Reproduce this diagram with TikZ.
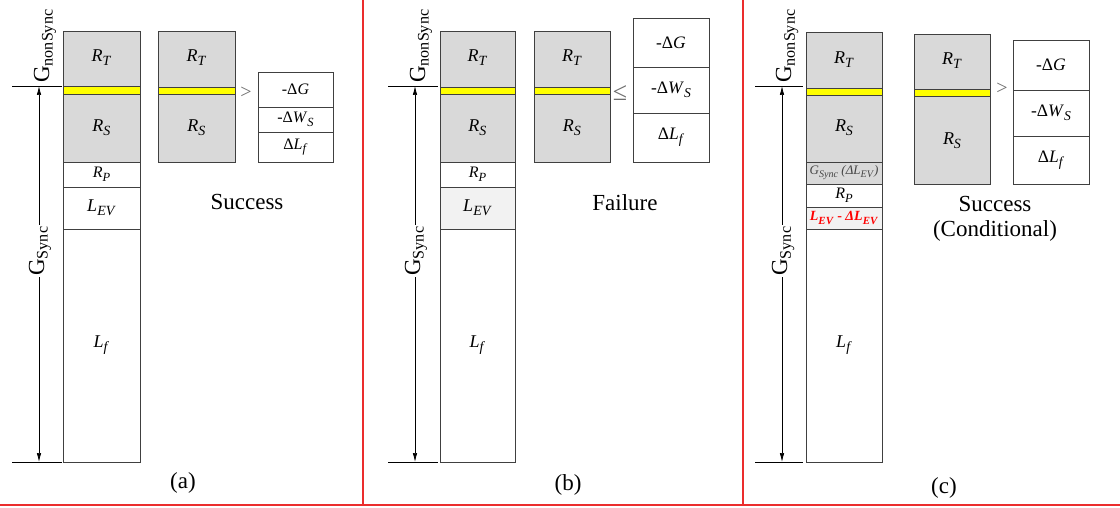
\documentclass[tikz,border=0pt]{standalone}
\usepackage{fontspec}
\usepackage{graphicx}
\setmainfont{Liberation Serif}
\usetikzlibrary{arrows.meta,calc,positioning}
\definecolor{blockgray}{RGB}{217,217,217}
\definecolor{paleblock}{RGB}{242,242,242}
\definecolor{bandyellow}{RGB}{255,255,0}
\definecolor{edgegray}{RGB}{64,64,64}
\definecolor{signgray}{RGB}{110,110,110}
\definecolor{notegray}{RGB}{70,70,70}
\definecolor{sepred}{RGB}{235,45,45}
\definecolor{lossred}{RGB}{255,0,0}

\newcommand{\vsub}[2]{\textit{#1}\raisebox{-0.22em}{\scalebox{0.78}{\textit{#2}}}}

\tikzset{
  stackbox/.style={draw=edgegray, line width=0.9pt},
  graybox/.style={stackbox, fill=blockgray},
  palebox/.style={stackbox, fill=paleblock},
  yband/.style={stackbox, fill=bandyellow},
  refline/.style={black, line width=0.7pt},
  dimarrow/.style={<->, black, line width=0.7pt},
  seprule/.style={draw=sepred, line width=1.2pt},
  blocklbl/.style={font=\fontsize{18}{20}\selectfont},
  smalllbl/.style={font=\fontsize{16}{18}\selectfont},
  deltalbl/.style={font=\fontsize{16}{18}\selectfont},
  bigdelta/.style={font=\fontsize{17.5}{20}\selectfont},
  verdict/.style={font=\fontsize{23}{26}\selectfont, align=center},
  relsign/.style={signgray, font=\fontsize{20}{22}\selectfont},
  glabel/.style={rotate=90, font=\fontsize{23}{24}\selectfont, inner sep=1pt},
}

\begin{document}
\begin{tikzpicture}[x=1pt, y=-1pt, >={Latex[length=9pt,width=4.5pt]}]

\useasboundingbox (0,0) rectangle (1120,508);

% =====================================================================
% Three panels, coordinates in pixels of the 1120x508 frame (y down).
% Each panel: stacked budget column, G lines, and a comparison.
% =====================================================================

% panel separators
\draw[seprule] (363,0) -- (363,505);
\draw[seprule] (743,0) -- (743,505);
\draw[seprule] (0,505) -- (1120,505);

% ===== Panel (a): success =====
\filldraw[graybox] (63,31) rectangle (140,162);
\filldraw[yband] (63,86) rectangle (140,94);
\draw[stackbox] (63,162) rectangle (140,187);
\draw[stackbox] (63,187) rectangle (140,229);
\draw[stackbox] (63,229) rectangle (140,462);
\node[blocklbl] (aRT) at (101.5,58) {\vsub{R}{T}};
\node[blocklbl] (aRS) at (101.5,128) {\vsub{R}{S}};
\node[smalllbl] (aRP) at (101.5,174.5) {\vsub{R}{P}};
\node[blocklbl] (aLEV) at (101.5,208) {\vsub{L}{EV}};
\node[blocklbl] (aLf) at (101.5,345.5) {\vsub{L}{f}};

% G levels
\coordinate (aTop) at (39,86);
\coordinate (aBot) at (39,462);
\draw[refline] (12,86) -- (62,86);
\draw[refline] (12,462) -- (62,462);
\draw[dimarrow] (aTop) -- (aBot);
\node[glabel, fill=white] (aGs) at (40,251) {G\textsubscript{Sync}};
\node[glabel] (aGns) at (45,46) {G\textsubscript{nonSync}};

% comparison
\filldraw[graybox] (158,31) rectangle (235,162);
\filldraw[yband] (158,87) rectangle (235,94);
\node[blocklbl] (aRT2) at (196.5,58) {\vsub{R}{T}};
\node[blocklbl] (aRS2) at (196.5,128) {\vsub{R}{S}};
\node[relsign] (aGt) at (246,93) {>};
\draw[stackbox] (258,72) rectangle (333,162);
\draw[stackbox] (258,107) -- (333,107);
\draw[stackbox] (258,132) -- (333,132);
\node[deltalbl] (aDG) at (295.5,89.5) {-Δ\textit{G}};
\node[deltalbl] (aDW) at (295.5,119.5) {-Δ\vsub{W}{S}};
\node[deltalbl] (aDL) at (295.5,147) {Δ\vsub{L}{f}};
\node[verdict] (aRes) at (247,202) {Success};
\node[verdict] (aTag) at (183,483) {(a)};

% ===== Panel (b): failure =====
\filldraw[graybox] (440,31) rectangle (515,162);
\filldraw[yband] (440,87) rectangle (515,94);
\draw[stackbox] (440,162) rectangle (515,187);
\filldraw[palebox] (440,187) rectangle (515,229);
\draw[stackbox] (440,229) rectangle (515,462);
\node[blocklbl] (bRT) at (477.5,58) {\vsub{R}{T}};
\node[blocklbl] (bRS) at (477.5,128) {\vsub{R}{S}};
\node[smalllbl] (bRP) at (477.5,174.5) {\vsub{R}{P}};
\node[blocklbl] (bLEV) at (477.5,208) {\vsub{L}{EV}};
\node[blocklbl] (bLf) at (477.5,345.5) {\vsub{L}{f}};

% G levels
\coordinate (bTop) at (415,86);
\coordinate (bBot) at (415,462);
\draw[refline] (388,86) -- (438,86);
\draw[refline] (388,462) -- (438,462);
\draw[dimarrow] (bTop) -- (bBot);
\node[glabel, fill=white] (bGs) at (416,251) {G\textsubscript{Sync}};
\node[glabel] (bGns) at (421,46) {G\textsubscript{nonSync}};

% comparison
\filldraw[graybox] (534,31) rectangle (610,162);
\filldraw[yband] (534,87) rectangle (610,94);
\node[blocklbl] (bRT2) at (572,58) {\vsub{R}{T}};
\node[blocklbl] (bRS2) at (572,128) {\vsub{R}{S}};
\node[relsign, font=\fontsize{26}{28}\selectfont] (bLe) at (620,93) {≤};
\draw[stackbox] (633,18) rectangle (709,162);
\draw[stackbox] (633,67) -- (709,67);
\draw[stackbox] (633,113) -- (709,113);
\node[bigdelta] (bDG) at (671,42.5) {-Δ\textit{G}};
\node[bigdelta] (bDW) at (671,90) {-Δ\vsub{W}{S}};
\node[bigdelta] (bDL) at (671,137.5) {Δ\vsub{L}{f}};
\node[verdict] (bRes) at (625,203) {Failure};
\node[verdict] (bTag) at (568,485) {(b)};

% ===== Panel (c): conditional success =====
\filldraw[graybox] (806,32) rectangle (882,184);
\filldraw[yband] (806,88) rectangle (882,95);
\draw[stackbox] (806,162) -- (882,162);
\draw[stackbox] (806,184) rectangle (882,207);
\filldraw[palebox] (806,207) rectangle (882,229);
\draw[stackbox] (806,229) rectangle (882,462);
\node[blocklbl] (cRT) at (844,60) {\vsub{R}{T}};
\node[blocklbl] (cRS) at (844,128) {\vsub{R}{S}};
\node[notegray, font=\fontsize{13}{15}\selectfont, inner sep=0pt] (cGS) at (844,173)
  {\vsub{G}{Sync} \textit{(Δ}\vsub{L}{EV}\textit{)}};
\node[smalllbl] (cRP) at (844,195.5) {\vsub{R}{P}};
\node[lossred, font=\fontsize{14}{16}\selectfont\bfseries, inner sep=0pt] (cLEV) at (844,218)
  {\vsub{L}{EV} - \textit{Δ}\vsub{L}{EV}};
\node[blocklbl] (cLf) at (844,345.5) {\vsub{L}{f}};

% G levels
\coordinate (cTop) at (782,86);
\coordinate (cBot) at (782,462);
\draw[refline] (755,86) -- (803,86);
\draw[refline] (755,462) -- (803,462);
\draw[dimarrow] (cTop) -- (cBot);
\node[glabel, fill=white] (cGs) at (783,251) {G\textsubscript{Sync}};
\node[glabel] (cGns) at (787,46) {G\textsubscript{nonSync}};

% comparison
\filldraw[graybox] (914,34) rectangle (990,184);
\filldraw[yband] (914,89) rectangle (990,96);
\node[blocklbl] (cRT2) at (952,61) {\vsub{R}{T}};
\node[blocklbl] (cRS2) at (952,141) {\vsub{R}{S}};
\node[relsign] (cGt) at (1002,89) {>};
\draw[stackbox] (1013,40) rectangle (1089,184);
\draw[stackbox] (1013,90) -- (1089,90);
\draw[stackbox] (1013,136) -- (1089,136);
\node[bigdelta] (cDG) at (1051,65) {-Δ\textit{G}};
\node[bigdelta] (cDW) at (1051,113) {-Δ\vsub{W}{S}};
\node[bigdelta] (cDL) at (1051,160) {Δ\vsub{L}{f}};
\node[verdict] (cRes) at (995,204) {Success};
\node[verdict] (cCond) at (995,231) {(Conditional)};
\node[verdict] (cTag) at (944,488) {(c)};

\end{tikzpicture}
\end{document}
